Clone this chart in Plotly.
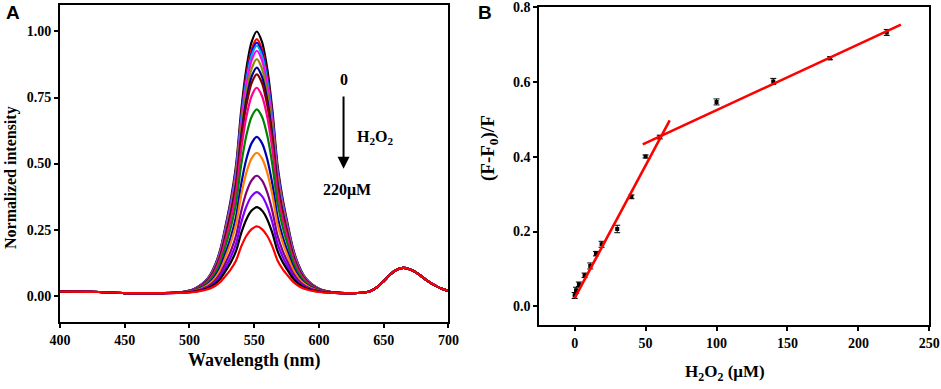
import plotly.graph_objects as go

# ---------------- Panel A data ----------------
wavelength = [400, 430, 450, 480, 492, 497, 502, 507, 512, 516, 520, 524, 528, 532, 536, 540, 544,
              548, 552, 556, 560, 564, 568, 572, 576, 580, 584, 588, 592, 597, 602, 607, 612, 620,
              630, 640, 645, 650, 655, 660, 665, 670, 675, 680, 685, 690, 695, 700]
# normalized profile of the 552 nm band
band552 = [0, 0, 0, 0, 0.002, 0.006, 0.012, 0.025, 0.045, 0.07, 0.11, 0.17, 0.26, 0.36, 0.49, 0.70,
           0.86, 0.96, 1.0, 0.96, 0.86, 0.70, 0.49, 0.36, 0.26, 0.17, 0.11, 0.07, 0.045, 0.025, 0.012,
           0.006, 0.002, 0, 0, 0, 0, 0, 0, 0, 0, 0, 0, 0, 0, 0, 0, 0]
# shared background incl. the 665 nm band (same for all curves)
background = [0.015, 0.014, 0.010, 0.010, 0.010, 0.010, 0.010, 0.010, 0.010, 0.010, 0.010, 0.010,
              0.010, 0.010, 0.010, 0.010, 0.010, 0.010, 0.010, 0.010, 0.010, 0.010, 0.010, 0.010,
              0.010, 0.010, 0.010, 0.010, 0.010, 0.010, 0.010, 0.010, 0.010, 0.010, 0.010, 0.018,
              0.032, 0.055, 0.080, 0.098, 0.105, 0.100, 0.088, 0.070, 0.052, 0.038, 0.026, 0.018]
peak_heights = [1.00, 0.971, 0.958, 0.946, 0.927, 0.895, 0.863, 0.838, 0.787, 0.705, 0.601, 0.541,
                0.454, 0.392, 0.335, 0.262]
curve_colors = ["#000000", "#ff0000", "#0000ff", "#00b0d0", "#ff00ff", "#8a8a00", "#000090",
                "#800000", "#ff0090", "#008000", "#0000b0", "#ff8000", "#800080", "#8000ff",
                "#000000", "#ff0000"]

# ---------------- Panel B data ----------------
h2o2 = [0, 1, 3, 7, 11, 15, 19, 30, 40, 50, 60, 100, 140, 180, 220]
response = [0.029, 0.043, 0.059, 0.083, 0.108, 0.141, 0.166, 0.207, 0.293, 0.401, 0.453, 0.547,
            0.602, 0.664, 0.733]
response_err = [0.008, 0.008, 0.006, 0.006, 0.008, 0.006, 0.008, 0.010, 0.005, 0.004, 0.005,
                0.008, 0.008, 0.004, 0.008]
fit_ranges = [[0, 67], [48, 230]]
fit_slopes = [0.0071, 0.00176]
fit_intercepts = [0.022, 0.349]

serif = "Liberation Serif"
fig = go.Figure()

for h, col in zip(peak_heights, curve_colors):
    y = [b + (h - 0.01) * s for b, s in zip(background, band552)]
    fig.add_trace(go.Scatter(x=wavelength, y=y, mode="lines", line=dict(color=col, width=2.2, shape="spline", smoothing=0.8),
                             xaxis="x", yaxis="y", showlegend=False, hoverinfo="skip"))

fig.add_trace(go.Scatter(x=h2o2, y=response, mode="markers",
                         marker=dict(color="black", size=4, symbol="square"),
                         error_y=dict(type="data", array=response_err, color="black", thickness=1, width=3),
                         xaxis="x2", yaxis="y2", showlegend=False))
for (x0, x1), m, b in zip(fit_ranges, fit_slopes, fit_intercepts):
    fig.add_trace(go.Scatter(x=[x0, x1], y=[m * x0 + b, m * x1 + b], mode="lines",
                             line=dict(color="#ff0000", width=2.6), xaxis="x2", yaxis="y2",
                             showlegend=False))

axis_common = dict(showline=True, linecolor="black", linewidth=2, mirror=True, ticks="outside",
                   ticklen=4, tickwidth=1.5, tickcolor="black", showgrid=False, zeroline=False,
                   automargin=False,
                   tickfont=dict(family=serif, size=14, color="black", weight="bold"))

fig.update_layout(
    width=941, height=389, margin=dict(l=0, r=0, t=0, b=0, autoexpand=False),
    plot_bgcolor="white", paper_bgcolor="white",
    xaxis=dict(domain=[0.0638, 0.4765], range=[400, 700], tickvals=[400, 450, 500, 550, 600, 650, 700],
               anchor="y", **axis_common),
    yaxis=dict(domain=[0.172, 0.987], range=[-0.1, 1.1], tickvals=[0, 0.25, 0.5, 0.75, 1.0],
               tickformat=".2f", anchor="x", **axis_common),
    xaxis2=dict(domain=[0.573, 0.9876], range=[-25, 250], tickvals=[0, 50, 100, 150, 200, 250],
                anchor="y2", **axis_common),
    yaxis2=dict(domain=[0.1645, 0.981], range=[-0.05, 0.8], tickvals=[0, 0.2, 0.4, 0.6, 0.8],
                tickformat=".1f", anchor="x2", **axis_common),
)

def tf(size):
    return dict(family=serif, size=size, color="black")

ann = [
    dict(text="<b>A</b>", x=4, y=0, font=dict(family="Liberation Sans", size=19, color="black")),
    dict(text="<b>B</b>", x=476, y=0, font=dict(family="Liberation Sans", size=19, color="black")),
    dict(text="<b>Wavelength (nm)</b>", x=255, y=360, font=tf(18)),
    dict(text="<b>Normalized intensity</b>", x=11, y=178, font=tf(16), textangle=-90),
    dict(text="<b>H<sub>2</sub>O<sub>2</sub> (μM)</b>", x=725, y=373, font=tf(17)),
    dict(text="<b>(F-F<sub>0</sub>)/F</b>", x=489, y=148, font=tf(19), textangle=-90),
]
for a in ann:
    xa, ya = a.pop("x"), a.pop("y")
    anchor = "left" if a["text"] in ("<b>A</b>", "<b>B</b>") else "center"
    yanc = "top" if anchor == "left" else "middle"
    fig.add_annotation(xref="paper", yref="paper", x=xa / 941, y=1 - ya / 389,
                       xanchor=anchor, yanchor=yanc, showarrow=False, **a)

# arrow and labels in panel A
fig.add_annotation(xref="x", yref="y", x=619, y=0.48, ax=619, ay=0.76, axref="x", ayref="y",
                   showarrow=True, arrowhead=2, arrowsize=1.2, arrowwidth=2, arrowcolor="black", text="")
lab_font = tf(16)
fig.add_annotation(xref="x", yref="y", x=619, y=0.82, text="<b>0</b>", showarrow=False, font=lab_font)
fig.add_annotation(xref="x", yref="y", x=644, y=0.60, text="<b>H<sub>2</sub>O<sub>2</sub></b>",
                   showarrow=False, font=lab_font)
fig.add_annotation(xref="x", yref="y", x=622, y=0.40, text="<b>220μM</b>", showarrow=False, font=lab_font)

fig.write_html("out.html", config={"displayModeBar": False},
               post_script="document.body.style.margin='0';document.body.style.overflow='hidden';")
